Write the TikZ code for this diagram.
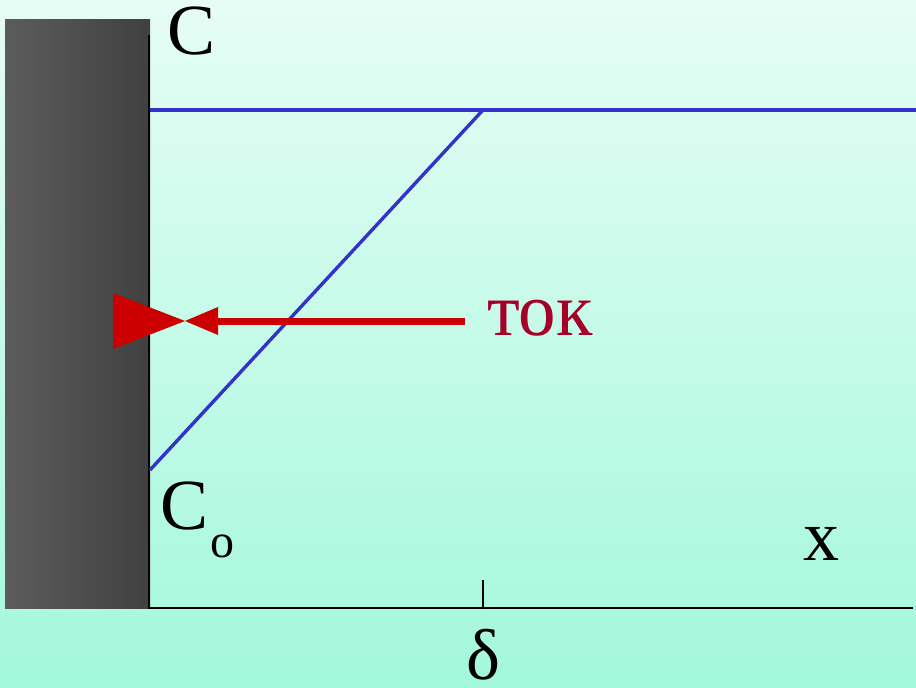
\documentclass[tikz,border=0pt]{standalone}
\usepackage{fontspec}
\setmainfont{Liberation Serif}
\definecolor{bgtop}{HTML}{E6FDF5}
\definecolor{bgbot}{HTML}{A3F8DB}
\definecolor{elL}{HTML}{5C5C5C}
\definecolor{elR}{HTML}{404040}
\definecolor{curblue}{HTML}{3333CC}
\definecolor{arrred}{HTML}{CC0000}
\definecolor{txtred}{HTML}{A50028}
\tikzset{
  bigtext/.style={inner sep=0pt, font=\fontsize{72}{72}\selectfont},
  axisline/.style={black, line width=2.4pt},
  profile/.style={curblue, line width=3.4pt},
}
\begin{document}
\begin{tikzpicture}[x=1pt,y=-1pt]
\useasboundingbox (0,0) rectangle (916,688);
\shade[top color=bgtop, bottom color=bgbot] (0,0) rectangle (916,688);
% electrode
\shade[left color=elL, right color=elR] (5,19) rectangle (150,608);
% coordinates
\coordinate (ytop) at (149,35);
\coordinate (orig) at (149,608);
\coordinate (xend) at (913,608);
\coordinate (tickb) at (483,608);
\coordinate (tickt) at (483,580);
\coordinate (c0) at (150,470);
\coordinate (bend) at (483,110);
\coordinate (hstart) at (150,110);
\coordinate (hend) at (916,110);
\coordinate (shaftstart) at (465,321);
\coordinate (tip) at (185,321);
% axes
\draw[axisline] (ytop) -- (orig) -- (xend);
\draw[axisline] (tickb) -- (tickt);
% profile
\draw[profile] (hstart) -- (hend);
\draw[profile] (c0) -- (bend);
% current arrow
\draw[arrred, line width=7pt] (shaftstart) -- (215,321);
\fill[arrred] (218,307) -- (tip) -- (218,335) -- cycle;
\fill[arrred] (113,293) -- (tip) -- (113,349) -- cycle;
% labels
\node[bigtext] (lc) at (192,31) {C};
\node[bigtext] (lc0) at (185,506) {C};
\node[inner sep=0pt, font=\fontsize{48}{48}\selectfont] (lsub) at (222,546) {o};
\node[bigtext] (lx) at (821,544) {x};
\node[bigtext] (ldelta) at (483,655) {δ};
\node[inner sep=0pt, font=\fontsize{75}{75}\selectfont, txtred] (ltok) at (540,318) {ток};
\end{tikzpicture}
\end{document}
